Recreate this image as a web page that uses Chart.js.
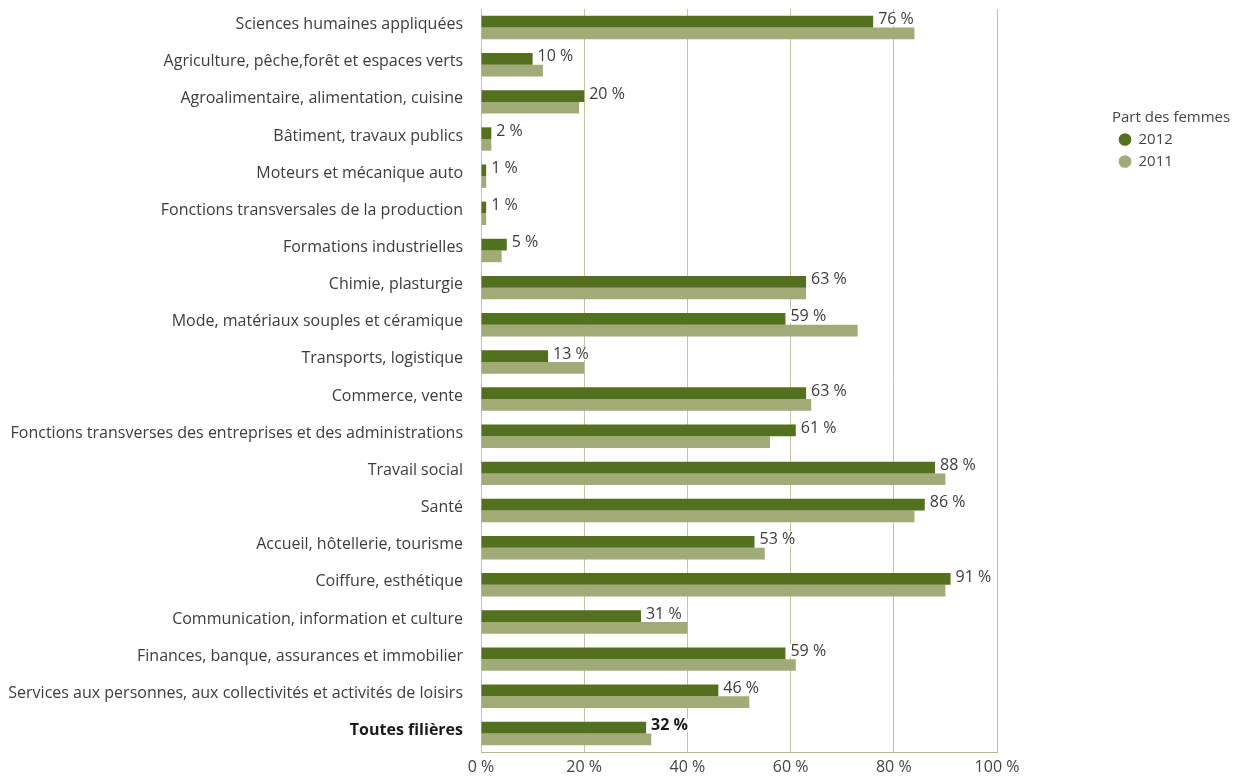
<!DOCTYPE html>
<html lang="fr">
<head>
<meta charset="UTF-8">
<title>Part des femmes par filière</title>
<script src="https://cdn.jsdelivr.net/npm/chart.js@4.4.1/dist/chart.umd.min.js"></script>
<style>
  body { margin: 0; background: #fff; }
  .wrap { position: relative; width: 1234px; height: 777px; }
</style>
</head>
<body>
<div class="wrap"><canvas id="chart"></canvas></div>
<script>
const filieres = [
  'Sciences humaines appliquées',
  'Agriculture, pêche,forêt et espaces verts',
  'Agroalimentaire, alimentation, cuisine',
  'Bâtiment, travaux publics',
  'Moteurs et mécanique auto',
  'Fonctions transversales de la production',
  'Formations industrielles',
  'Chimie, plasturgie',
  'Mode, matériaux souples et céramique',
  'Transports, logistique',
  'Commerce, vente',
  'Fonctions transverses des entreprises et des administrations',
  'Travail social',
  'Santé',
  'Accueil, hôtellerie, tourisme',
  'Coiffure, esthétique',
  'Communication, information et culture',
  'Finances, banque, assurances et immobilier',
  'Services aux personnes, aux collectivités et activités de loisirs',
  'Toutes filières'
];
const femmes2012 = [76, 10, 20, 2, 1, 1, 5, 63, 59, 13, 63, 61, 88, 86, 53, 91, 31, 59, 46, 32];
const femmes2011 = [84, 12, 19, 2, 1, 1, 4, 63, 73, 20, 64, 56, 90, 84, 55, 90, 40, 61, 52, 33];
const annees = ['2012', '2011'];

const FONT = '"Open Sans", "Noto Sans", sans-serif';
const last = filieres.length - 1;
const pct = v => v + '\u00a0%';

Chart.defaults.font.family = FONT;
Chart.defaults.color = '#444';

// labels at the end of the 2012 bars
const valueLabels = {
  id: 'valueLabels',
  afterDatasetsDraw(chart) {
    const ctx = chart.ctx;
    const meta = chart.getDatasetMeta(0);
    ctx.save();
    ctx.textBaseline = 'middle';
    meta.data.forEach((bar, i) => {
      ctx.font = (i === last ? 'bold ' : '') + '16px ' + FONT;
      const txt = pct(femmes2012[i]);
      const w = ctx.measureText(txt).width;
      const x = bar.x + 4;
      const y = bar.y - 2;
      ctx.fillStyle = '#fff';
      ctx.fillRect(x, y - 7, w + 3, 13);
      ctx.fillStyle = i === last ? '#1a1a1a' : '#3c3c3c';
      ctx.fillText(txt, x + 1, y);
    });
    ctx.restore();
  }
};

// keep the legend far to the right, away from the plot
const legendPlace = {
  id: 'legendPlace',
  beforeInit(chart) {
    const fit = chart.legend.fit;
    chart.legend.fit = function () {
      fit.call(this);
      this.width = 237;
    };
  },
  afterLayout(chart) {
    chart.legend.left = 1112;
    chart.legend.right = 1234;
  }
};

new Chart(document.getElementById('chart'), {
  type: 'bar',
  data: {
    labels: filieres,
    datasets: [
      { label: annees[0], data: femmes2012, backgroundColor: '#53701e' },
      { label: annees[1], data: femmes2011, backgroundColor: '#a0ab78' }
    ]
  },
  options: {
    indexAxis: 'y',
    responsive: true,
    maintainAspectRatio: false,
    animation: false,
    events: [],
    categoryPercentage: 0.63,
    barPercentage: 1,
    layout: { padding: { top: 9, bottom: 0, left: 0, right: 0 } },
    scales: {
      x: {
        min: 0,
        max: 100,
        ticks: { stepSize: 20, callback: v => pct(v), color: '#444', font: { size: 16 }, padding: 6 },
        grid: { color: '#c7c2a0', drawTicks: false },
        border: { color: '#b8b38d' },
        afterFit: s => {
          s.height = 25;
          s.paddingTop = 0;
          s.paddingBottom = 0;
        }
      },
      y: {
        grid: { display: false, drawTicks: false },
        border: { color: '#c7c2a0' },
        afterFit: s => {
          s.width = 481;
          s.paddingTop = 0;
          s.paddingBottom = 0;
        },
        ticks: {
          autoSkip: false,
          padding: 18,
          labelOffset: -3,
          color: c => c.index === last ? '#1a1a1a' : '#3c3c3c',
          font: c => ({ size: 16, weight: c.index === last ? 'bold' : 'normal' })
        }
      }
    },
    plugins: {
      tooltip: { enabled: false },
      legend: {
        position: 'right',
        align: 'start',
        title: {
          display: true,
          text: 'Part des femmes',
          position: 'start',
          color: '#444',
          font: { size: 15, lineHeight: 1 },
          padding: { top: 101, bottom: 0 }
        },
        labels: {
          usePointStyle: true,
          pointStyle: 'circle',
          boxWidth: 12,
          boxHeight: 9,
          padding: 7,
          color: '#444',
          font: { size: 15 }
        }
      }
    }
  },
  plugins: [valueLabels, legendPlace]
});
</script>
</body>
</html>
